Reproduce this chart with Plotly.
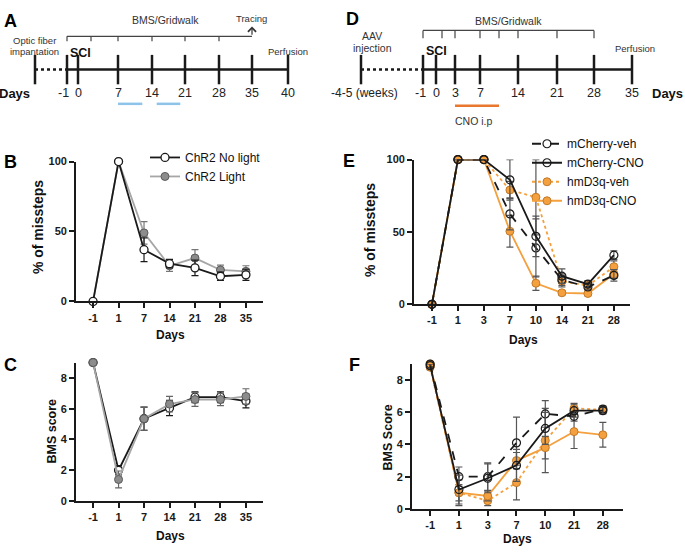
import numpy as np
import plotly.graph_objects as go

W, H = 685, 552
FONT = "Liberation Sans, Arial, Helvetica, sans-serif"

# ---------------- data ----------------
# Panel A timeline (days)
a_days = [-1, 0, 7, 14, 21, 28, 35, 40]
a_test_days = [-1, 1, 7, 14, 21, 28, 35]
a_light_periods = [(7, 12), (15, 20)]

# Panel D timeline (days)
d_days = [-1, 0, 3, 7, 14, 21, 28, 35]
d_test_days = [-1, 1, 3, 7, 10, 14, 21, 28]
d_cno_period = (3, 10)

# Panels B / C
bc_days = ['-1', '1', '7', '14', '21', '28', '35']
b_nolight = [0, 100, 37, 27, 24, 18, 19]
b_nolight_sem = [0, 0, 8.5, 3, 5.5, 3, 4]
b_light = [0, 100, 49, 25.5, 31, 22.5, 21.5]
b_light_sem = [0, 0, 8, 4, 6, 3.5, 4]

c_nolight = [9, 2.0, 5.35, 6.05, 6.75, 6.75, 6.5]
c_nolight_sem = [0, 0.3, 0.75, 0.5, 0.35, 0.35, 0.45]
c_light = [9, 1.4, 5.35, 6.3, 6.6, 6.6, 6.8]
c_light_sem = [0, 0.55, 0.75, 0.5, 0.45, 0.4, 0.5]

# Panel E
e_days = ['-1', '1', '3', '7', '10', '14', '21', '28']
e_mch_veh = [0, 100, 100, 62.5, 39, 17, 12, 20]
e_mch_veh_sem = [0, 0, 0, 11, 20, 4, 2, 4]
e_mch_cno = [0, 100, 100, 86, 47, 19.5, 14, 34]
e_mch_cno_sem = [0, 0, 0, 14, 14, 5, 2.5, 3]
e_hm_veh = [0, 100, 100, 79, 74, 16, 13, 26]
e_hm_veh_sem = [0, 0, 0, 6, 26, 4, 2.5, 4]
e_hm_cno = [0, 100, 100, 50.5, 14.6, 8, 7.5, 21]
e_hm_cno_sem = [0, 0, 0, 11, 5, 1.5, 1.5, 3]

# Panel F
f_days = ['-1', '1', '3', '7', '10', '21', '28']
f_mch_veh = [9.0, 2.0, 2.0, 4.1, 5.9, 5.75, 6.2]
f_mch_veh_sem = [0, 0.6, 0.85, 1.6, 0.83, 0.3, 0.2]
f_mch_cno = [8.9, 1.2, 1.9, 2.7, 5.0, 6.1, 6.1]
f_mch_cno_sem = [0.15, 0.9, 0.9, 1.0, 1.0, 0.4, 0.2]
f_hm_veh = [8.8, 1.0, 0.5, 1.63, 4.25, 6.25, 6.15]
f_hm_veh_sem = [0.15, 0.8, 0.3, 1.08, 2.0, 0.3, 0.2]
f_hm_cno = [9.0, 1.0, 0.8, 3.0, 3.8, 4.8, 4.6]
f_hm_cno_sem = [0, 0.5, 0.3, 0.5, 0.7, 1.05, 0.77]

# ---------------- layout constants ----------------
# schematic (non-linear) timeline placement, in pixels
A_ANCHOR_DAYS = [-1, 0, 1, 7, 14, 21, 28, 35, 40]
A_ANCHOR_PX = [67, 78, 91, 118, 152, 185, 219, 252, 288]
A_PRE_PX = 35
D_ANCHOR_DAYS = [-1, 0, 1, 3, 7, 10, 14, 21, 28, 35]
D_ANCHOR_PX = [423, 436, 442, 455, 480, 499, 518, 557, 594, 632]
D_PRE_PX = 361


def apx(d):
    return float(np.interp(d, A_ANCHOR_DAYS, A_ANCHOR_PX))


def dpx(d):
    return float(np.interp(d, D_ANCHOR_DAYS, D_ANCHOR_PX))


BLACK = '#1a1a1a'
ORANGE = '#F4A03E'
ORANGE_EDGE = '#C27A2A'
GRAY = '#8c8c8c'
GRAY_LINE = '#a6a6a6'
ERR_GRAY = '#555555'

fig = go.Figure()

# ---------------- timelines (pixel axes x5/y5) ----------------
def tl_line(xs, ys, color=BLACK, width=2.5, dash='solid'):
    fig.add_trace(go.Scatter(x=xs, y=ys, mode='lines', line=dict(color=color, width=width, dash=dash),
                             xaxis='x5', yaxis='y5', showlegend=False, hoverinfo='skip', cliponaxis=False))


def tl_ticks(xs, y, size=21):
    fig.add_trace(go.Scatter(x=xs, y=[y] * len(xs), mode='markers',
                             marker=dict(symbol='line-ns', size=size, line=dict(width=2.5, color=BLACK)),
                             xaxis='x5', yaxis='y5', showlegend=False, hoverinfo='skip', cliponaxis=False))


MAIN_Y = 65
# A
tl_line([A_PRE_PX, apx(-1)], [MAIN_Y, MAIN_Y], dash='dot')
tl_line([apx(-1), apx(a_days[-1])], [MAIN_Y, MAIN_Y])
tl_ticks([A_PRE_PX] + [apx(d) for d in a_days], MAIN_Y)
bx, by = [apx(a_test_days[0]), apx(a_test_days[-1])], [31, 31]
for d in a_test_days[:-1]:
    bx += [None, apx(d), apx(d)]
    by += [None, 31, 36]
tl_line(bx, by, color='#444', width=1.2)
for s, e in a_light_periods:
    tl_line([apx(s), apx(e)], [100, 100], color='#8EC3EA', width=2.5)
# D
tl_line([D_PRE_PX, dpx(-1)], [MAIN_Y, MAIN_Y], dash='dot')
tl_line([dpx(-1), dpx(d_days[-1])], [MAIN_Y, MAIN_Y])
tl_ticks([D_PRE_PX] + [dpx(d) for d in d_days], MAIN_Y)
bx, by = [dpx(d_test_days[0]), dpx(d_test_days[-1])], [25, 25]
for d in d_test_days:
    bx += [None, dpx(d), dpx(d)]
    by += [None, 25, 33]
tl_line(bx, by, color='#444', width=1.2)
tl_line([dpx(d_cno_period[0]), dpx(d_cno_period[1])], [102, 102], color='#E8762D', width=2.5)

# ---------------- data panels ----------------
def err(arr, color, width=3.5):
    return dict(type='data', array=arr, color=color, thickness=1.2, width=width, visible=True)


def series(x, y, e, xa, ya, name, line, marker, errc, legend=None, show=False, rank=None):
    tr = go.Scatter(x=x, y=y, error_y=err(e, errc), mode='lines+markers', name=name,
                    line=line, marker=marker, xaxis=xa, yaxis=ya, showlegend=show,
                    cliponaxis=False, hoverinfo='skip')
    if legend:
        tr.legend = legend
    if rank is not None:
        tr.legendrank = rank
    fig.add_trace(tr)


m_white = dict(symbol='circle', size=8, color='white', line=dict(color=BLACK, width=1.3))
m_gray = dict(symbol='circle', size=8, color=GRAY, line=dict(color='#5a5a5a', width=1))
m_open = dict(symbol='circle-open', size=8, color=BLACK, line=dict(width=1.2))
m_orange = dict(symbol='circle', size=8, color=ORANGE, line=dict(color=ORANGE_EDGE, width=1))

# B (Light under No light)
series(bc_days, b_light, b_light_sem, 'x', 'y', 'ChR2 Light', dict(color=GRAY_LINE, width=1.8), m_gray,
       '#777', legend='legend', show=True, rank=2)
series(bc_days, b_nolight, b_nolight_sem, 'x', 'y', 'ChR2 No light', dict(color=BLACK, width=1.8), m_white,
       BLACK, legend='legend', show=True, rank=1)
# C
series(bc_days, c_nolight, c_nolight_sem, 'x2', 'y2', 'ChR2 No light', dict(color=BLACK, width=1.8), m_white, BLACK)
series(bc_days, c_light, c_light_sem, 'x2', 'y2', 'ChR2 Light', dict(color=GRAY_LINE, width=1.8), m_gray, '#666')

# E (orange drawn first, black on top)
series(e_days, e_hm_veh, e_hm_veh_sem, 'x3', 'y3', 'hmD3q-veh', dict(color=ORANGE, width=1.8, dash='dot'),
       m_orange, ERR_GRAY, legend='legend2', show=True, rank=3)
series(e_days, e_hm_cno, e_hm_cno_sem, 'x3', 'y3', 'hmD3q-CNO', dict(color=ORANGE, width=1.8),
       m_orange, ERR_GRAY, legend='legend2', show=True, rank=4)
series(e_days, e_mch_veh, e_mch_veh_sem, 'x3', 'y3', 'mCherry-veh', dict(color=BLACK, width=1.8, dash='dash'),
       m_open, ERR_GRAY, legend='legend2', show=True, rank=1)
series(e_days, e_mch_cno, e_mch_cno_sem, 'x3', 'y3', 'mCherry-CNO', dict(color=BLACK, width=1.8),
       m_open, ERR_GRAY, legend='legend2', show=True, rank=2)
# F
series(f_days, f_hm_veh, f_hm_veh_sem, 'x4', 'y4', 'hmD3q-veh', dict(color=ORANGE, width=1.8, dash='dot'), m_orange, ERR_GRAY)
series(f_days, f_hm_cno, f_hm_cno_sem, 'x4', 'y4', 'hmD3q-CNO', dict(color=ORANGE, width=1.8), m_orange, ERR_GRAY)
series(f_days, f_mch_veh, f_mch_veh_sem, 'x4', 'y4', 'mCherry-veh', dict(color=BLACK, width=1.8, dash='dash'), m_open, ERR_GRAY)
series(f_days, f_mch_cno, f_mch_cno_sem, 'x4', 'y4', 'mCherry-CNO', dict(color=BLACK, width=1.8), m_open, ERR_GRAY)

# ---------------- axes ----------------
def dom_x(x0, x1):
    return [x0 / W, x1 / W]


def dom_y(ytop, ybot):
    return [1 - ybot / H, 1 - ytop / H]


def axstyle(**kw):
    d = dict(showline=True, linecolor=BLACK, linewidth=1.8, ticks='outside', ticklen=5, tickwidth=1.8,
             tickcolor=BLACK, showgrid=False, zeroline=False, fixedrange=True,
             tickfont=dict(family=FONT, size=11, color=BLACK, weight='bold'))
    d.update(kw)
    return d


layout_axes = dict(
    xaxis=axstyle(domain=dom_x(76, 263), anchor='y', type='category', categoryorder='array',
                  categoryarray=bc_days, range=[-0.67, 6.67]),
    yaxis=axstyle(domain=dom_y(159, 302), anchor='x', range=[0, 100], tickvals=[0, 50, 100]),
    xaxis2=axstyle(domain=dom_x(76, 263), anchor='y2', type='category', categoryorder='array',
                   categoryarray=bc_days, range=[-0.67, 6.67]),
    yaxis2=axstyle(domain=dom_y(364.5, 506), anchor='x2', range=[0, 9], tickvals=[0, 2, 4, 6, 8]),
    xaxis3=axstyle(domain=dom_x(414, 630), anchor='y3', type='category', categoryorder='array',
                   categoryarray=e_days, range=[-0.69, 7.62]),
    yaxis3=axstyle(domain=dom_y(157, 305), anchor='x3', range=[0, 100], tickvals=[0, 50, 100]),
    xaxis4=axstyle(domain=dom_x(412, 623), anchor='y4', type='category', categoryorder='array',
                   categoryarray=f_days, range=[-0.63, 6.7]),
    yaxis4=axstyle(domain=dom_y(366, 514), anchor='x4', range=[0, 9], tickvals=[0, 2, 4, 6, 8]),
    xaxis5=dict(domain=[0, 1], range=[0, W], visible=False, anchor='y5', fixedrange=True),
    yaxis5=dict(domain=[0, 1], range=[H, 0], visible=False, anchor='x5', fixedrange=True),
)

# ---------------- text ----------------
annotations = []


def txt(x, y, s, size=10, bold=False, color='#222', angle=0, anchor='center'):
    annotations.append(dict(x=x / W, y=1 - y / H, xref='paper', yref='paper',
                            text=('<b>%s</b>' % s) if bold else s, showarrow=False,
                            font=dict(family=FONT, size=size, color=color),
                            xanchor=anchor, yanchor='middle', textangle=angle))


# panel letters
for lab, x, y in [('A', 10, 15), ('B', 10, 159), ('C', 10, 367), ('D', 353, 13), ('E', 349, 158), ('F', 354, 367)]:
    txt(x, y, lab, size=18, bold=True, color='#000')

# A timeline text
txt(34, 35, 'Optic fiber', 9.5, color='#333')
txt(34, 47, 'impantation', 9.5, color='#333')
txt(80, 48, 'SCI', 12.5, bold=True, color='#111')
txt(165, 14, 'BMS/Gridwalk', 10.5, color='#333')
txt(apx(35), 13, 'Tracing', 9.5, color='#333')
txt(288, 46, 'Perfusion', 9.5, color='#333')
txt(14, 89, 'Days', 13, bold=True, color='#111')
for d in a_days:
    txt(apx(d) - (3 if d == -1 else 0), 89, str(d), 12.5, color='#222')
annotations.append(dict(x=apx(35), y=21, ax=apx(35), ay=31, xref='x5', yref='y5', axref='x5', ayref='y5',
                        showarrow=True, arrowhead=4, arrowsize=1.3, arrowwidth=1.2, arrowcolor='#333', text=''))

# D timeline text
txt(372, 31, 'AAV', 10.5, color='#333')
txt(372, 43, 'injection', 10.5, color='#333')
txt(436, 46, 'SCI', 12.5, bold=True, color='#111')
txt(508, 15, 'BMS/Gridwalk', 10.5, color='#333')
txt(635, 43, 'Perfusion', 9.5, color='#333')
txt(364, 89, '-4-5 (weeks)', 12, color='#222')
txt(685, 89, 'Days', 13, bold=True, color='#111', anchor='right')
for d in d_days:
    txt(dpx(d) - (3 if d == -1 else 0), 89, str(d), 12.5, color='#222')
txt(474, 118, 'CNO i.p', 10.5, color='#333')

# axis titles
txt(38, 226, '% of missteps', 14, bold=True, color='#111', angle=-90)
txt(170, 336, 'Days', 12, bold=True, color='#111')
txt(52, 435, 'BMS score', 12.5, bold=True, color='#111', angle=-90)
txt(170, 542, 'Days', 12, bold=True, color='#111')
txt(370, 229, '% of missteps', 14, bold=True, color='#111', angle=-90)
txt(523, 341, 'Days', 12, bold=True, color='#111')
txt(388, 441, 'BMS Score', 12.5, bold=True, color='#111', angle=-90)
txt(517, 545, 'Days', 12, bold=True, color='#111')

fig.update_layout(
    width=W, height=H, margin=dict(l=0, r=0, t=0, b=0, pad=0),
    paper_bgcolor='white', plot_bgcolor='rgba(0,0,0,0)',
    annotations=annotations,
    legend=dict(x=(187 - 42) / W, y=1 - 140 / H, xanchor='left', yanchor='top',
                font=dict(family=FONT, size=12, color='#111'), bgcolor='rgba(0,0,0,0)',
                itemwidth=30, tracegroupgap=0, traceorder='normal'),
    legend2=dict(x=(569 - 42) / W, y=1 - 126 / H, xanchor='left', yanchor='top',
                 font=dict(family=FONT, size=12, color='#111'), bgcolor='rgba(0,0,0,0)',
                 itemwidth=30, tracegroupgap=0, traceorder='normal'),
    **layout_axes,
)

fig.write_html("out.html", config={'displayModeBar': False},
               post_script="document.body.style.margin='0px';document.body.style.padding='0px';"
                           "document.body.style.overflow='hidden';")
